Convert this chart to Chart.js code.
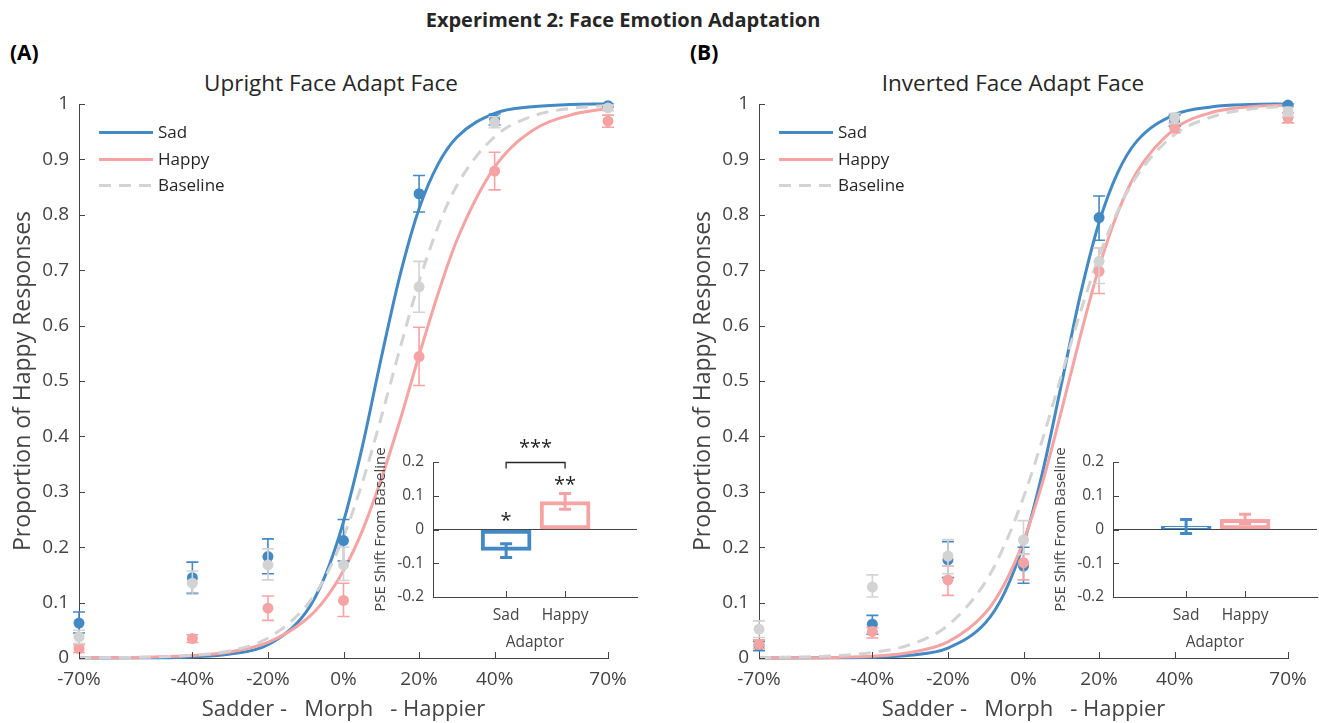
<!DOCTYPE html>
<html>
<head>
<meta charset="utf-8">
<script src="https://cdn.jsdelivr.net/npm/chart.js@4.4.0/dist/chart.umd.min.js"></script>
<style>
    body { margin: 0; background: #fff; font-family: 'Open Sans', sans-serif; }
    #page { position: relative; width: 1319px; height: 723px; overflow: hidden; }
    canvas { position: absolute; }
    .txt { position: absolute; white-space: pre; color: #262626; }
    .leg { position: absolute; font-size: 17px; line-height: 20px; color: #262626; }
    .leg svg { position: absolute; left: -59px; top: 0; }
</style>
</head>
<body>
<div id="page">
    <div class="txt" style="left:0;width:1246px;text-align:center;top:8px;line-height:24px;font-size:20px;font-weight:bold;">Experiment 2: Face Emotion Adaptation</div>
    <div class="txt" style="left:10px;top:40px;line-height:24px;font-size:21px;font-weight:bold;color:#000;">(A)</div>
    <div class="txt" style="left:690px;top:40px;line-height:24px;font-size:21px;font-weight:bold;color:#000;">(B)</div>
    <div class="txt" style="left:131px;width:400px;text-align:center;top:69px;line-height:28px;font-size:22.5px;">Upright Face Adapt Face</div>
    <div class="txt" style="left:813px;width:400px;text-align:center;top:69px;line-height:28px;font-size:22.5px;">Inverted Face Adapt Face</div>

    <canvas id="mainA" width="639" height="723" style="left:0;top:0;"></canvas>
    <canvas id="mainB" width="639" height="723" style="left:680px;top:0;"></canvas>
    <canvas id="insetA" width="279" height="230" style="left:360px;top:430px;"></canvas>
    <canvas id="insetB" width="279" height="230" style="left:1040px;top:430px;"></canvas>

    <div id="legendA"></div>
    <div id="legendB"></div>
</div>

<script>
// ---- data ----
const morphLevels = [-70, -40, -20, 0, 20, 40, 70];
const xTickValues = [-70, -40, -20, 0, 20, 40, 70];
const conditions = ['Sad', 'Happy', 'Baseline'];

// upright face, observed proportions and error bar ends
const uprightSad = [0.063, 0.145, 0.183, 0.212, 0.838, 0.972, 0.997];
const uprightSadLo = [0.045, 0.117, 0.152, 0.175, 0.805, 0.962, 0.994];
const uprightSadHi = [0.083, 0.173, 0.215, 0.250, 0.871, 0.982, 1.000];
const uprightHappy = [0.017, 0.035, 0.090, 0.104, 0.544, 0.879, 0.969];
const uprightHappyLo = [0.010, 0.028, 0.068, 0.075, 0.492, 0.845, 0.958];
const uprightHappyHi = [0.024, 0.042, 0.112, 0.135, 0.597, 0.913, 0.980];
const uprightBase = [0.038, 0.135, 0.168, 0.168, 0.670, 0.967, 0.993];
const uprightBaseLo = [0.026, 0.115, 0.141, 0.140, 0.624, 0.957, 0.988];
const uprightBaseHi = [0.050, 0.157, 0.197, 0.200, 0.716, 0.977, 0.998];

// inverted face
const invertedSad = [0.022, 0.061, 0.177, 0.166, 0.795, 0.970, 0.998];
const invertedSadLo = [0.013, 0.043, 0.145, 0.135, 0.754, 0.960, 0.995];
const invertedSadHi = [0.030, 0.077, 0.210, 0.200, 0.834, 0.980, 1.000];
const invertedHappy = [0.025, 0.048, 0.141, 0.172, 0.698, 0.957, 0.975];
const invertedHappyLo = [0.017, 0.036, 0.113, 0.141, 0.658, 0.948, 0.966];
const invertedHappyHi = [0.033, 0.055, 0.166, 0.188, 0.740, 0.965, 0.984];
const invertedBase = [0.052, 0.128, 0.184, 0.213, 0.716, 0.975, 0.986];
const invertedBaseLo = [0.037, 0.110, 0.152, 0.187, 0.676, 0.965, 0.978];
const invertedBaseHi = [0.067, 0.150, 0.214, 0.248, 0.740, 0.983, 0.994];

// fitted curves, sampled off the figure
const curveX = [-70, -50, -40, -30, -20, -10, -5, 0, 5, 10, 15, 20, 25, 30, 40, 50, 60, 70];
const uprightSadFit = [0.000, 0.0005, 0.002, 0.007, 0.024, 0.082, 0.146, 0.246, 0.382, 0.542, 0.692, 0.811, 0.891, 0.940, 0.983, 0.995, 0.999, 1.000];
const uprightHappyFit = [0.0003, 0.002, 0.0045, 0.011, 0.028, 0.069, 0.105, 0.158, 0.230, 0.323, 0.430, 0.546, 0.657, 0.754, 0.886, 0.952, 0.980, 0.992];
const uprightBaseFit = [0.0002, 0.002, 0.005, 0.013, 0.036, 0.093, 0.144, 0.219, 0.317, 0.435, 0.560, 0.679, 0.778, 0.853, 0.941, 0.978, 0.992, 0.997];
const invertedSadFit = [0.000, 0.0003, 0.0013, 0.005, 0.018, 0.064, 0.118, 0.206, 0.334, 0.493, 0.654, 0.786, 0.877, 0.933, 0.981, 0.995, 0.999, 1.000];
const invertedHappyFit = [0.0001, 0.001, 0.003, 0.010, 0.029, 0.082, 0.134, 0.211, 0.316, 0.445, 0.580, 0.705, 0.805, 0.877, 0.955, 0.985, 0.995, 0.998];
const invertedBaseFit = [0.0006, 0.004, 0.010, 0.024, 0.059, 0.138, 0.204, 0.290, 0.394, 0.509, 0.623, 0.725, 0.808, 0.870, 0.945, 0.977, 0.991, 0.996];

// PSE shift insets
const adaptors = ['Sad', 'Happy'];
const adaptorPos = [1, 2];
const uprightShift = [-0.062, 0.083];
const uprightShiftLo = [-0.083, 0.060];
const uprightShiftHi = [-0.042, 0.107];
const uprightStars = ['*', '**'];
const uprightPairStars = '***';
const invertedShift = [0.010, 0.030];
const invertedShiftLo = [-0.012, 0.018];
const invertedShiftHi = [0.030, 0.045];
const invertedStars = ['', ''];
const invertedPairStars = '';

const BLUE = '#4389C4';
const PINK = '#F5A3A3';
const GREY = '#D3D3D3';
const AXIS = '#444444';
const colors = [BLUE, PINK, GREY];

Chart.defaults.font.family = "'Open Sans', sans-serif";
Chart.defaults.color = AXIS;

// small ticks pointing into the plot, like the original
const innerTicks = {
    id: 'innerTicks',
    afterDraw(chart) {
        const { ctx, chartArea, scales } = chart;
        ctx.save();
        ctx.strokeStyle = AXIS;
        ctx.lineWidth = 1;
        scales.y.ticks.forEach(t => {
            const py = Math.round(scales.y.getPixelForValue(t.value)) + 0.5;
            ctx.beginPath();
            ctx.moveTo(chartArea.left, py);
            ctx.lineTo(chartArea.left + 6, py);
            ctx.stroke();
        });
        scales.x.ticks.forEach(t => {
            const px = Math.round(scales.x.getPixelForValue(t.value)) + 0.5;
            ctx.beginPath();
            ctx.moveTo(px, chartArea.bottom);
            ctx.lineTo(px, chartArea.bottom - 6);
            ctx.stroke();
        });
        ctx.restore();
    }
};

// error bars for the observed points, drawn just under each dataset's dots
const pointErrors = {
    id: 'pointErrors',
    beforeDatasetDraw(chart, args) {
        const ds = chart.data.datasets[args.index];
        if (!ds.errLo) return;
        const { ctx, scales } = chart;
        ctx.save();
        ctx.strokeStyle = ds.backgroundColor;
        ctx.lineWidth = 1.6;
        ds.data.forEach((p, j) => {
            const px = scales.x.getPixelForValue(p.x);
            const top = scales.y.getPixelForValue(ds.errHi[j]);
            const bot = scales.y.getPixelForValue(ds.errLo[j]);
            ctx.beginPath();
            ctx.moveTo(px, top); ctx.lineTo(px, bot);
            ctx.moveTo(px - 6, top); ctx.lineTo(px + 6, top);
            ctx.moveTo(px - 6, bot); ctx.lineTo(px + 6, bot);
            ctx.stroke();
        });
        ctx.restore();
    }
};

function makeMain(id, obs, lo, hi, fits) {
    const datasets = [];
    // dots: baseline on top, then happy, then sad
    for (let i = 2; i >= 0; i--) {
        datasets.push({
            type: 'scatter',
            label: conditions[i] + ' data',
            data: morphLevels.map((m, j) => ({ x: m, y: obs[i][j] })),
            errLo: lo[i],
            errHi: hi[i],
            backgroundColor: colors[i],
            borderColor: colors[i],
            pointRadius: 5.5,
            pointBorderWidth: 0,
            clip: false,
            order: 2 - i
        });
    }
    for (let i = 2; i >= 0; i--) {
        datasets.push({
            type: 'line',
            label: conditions[i],
            data: curveX.map((m, j) => ({ x: m, y: fits[i][j] })),
            borderColor: colors[i],
            borderWidth: 3,
            borderDash: i === 2 ? [12, 8] : [],
            pointRadius: 0,
            cubicInterpolationMode: 'monotone',
            fill: false,
            clip: false,
            order: 5 - i
        });
    }
    return new Chart(document.getElementById(id), {
        data: { datasets },
        options: {
            responsive: false,
            animation: false,
            events: [],
            layout: { padding: { left: 10, top: 104, right: 31, bottom: 0 } },
            plugins: { legend: { display: false }, tooltip: { enabled: false } },
            scales: {
                x: {
                    type: 'linear',
                    min: -70,
                    max: 70,
                    afterBuildTicks: s => { s.ticks = xTickValues.map(v => ({ value: v })); },
                    afterFit: s => { s.height = 65; },
                    grid: { display: false, drawTicks: false },
                    border: { display: true, color: AXIS, width: 1 },
                    ticks: { autoSkip: false, maxRotation: 0, padding: 10, font: { size: 19 }, callback: v => v + '%' },
                    title: { display: true, text: 'Sadder -   Morph   - Happier', font: { size: 22 }, padding: 0, color: AXIS }
                },
                y: {
                    type: 'linear',
                    min: 0,
                    max: 1,
                    afterFit: s => { s.width = 69; },
                    grid: { display: false, drawTicks: false },
                    border: { display: true, color: AXIS, width: 1 },
                    ticks: { stepSize: 0.1, padding: 10, font: { size: 19 }, callback: v => (Math.abs(v) < 1e-9 ? '0' : String(+v.toFixed(1))) },
                    title: { display: true, text: 'Proportion of Happy Responses', font: { size: 23 }, padding: 0, color: AXIS }
                }
            }
        },
        plugins: [innerTicks, pointErrors]
    });
}

// error bars, significance stars and bracket for the inset bars
const insetMarks = {
    id: 'insetMarks',
    afterDatasetsDraw(chart) {
        const { ctx, scales } = chart;
        const ds = chart.data.datasets[0];
        ctx.save();
        ds.data.forEach((p, j) => {
            const px = scales.x.getPixelForValue(p.x);
            const top = scales.y.getPixelForValue(ds.errHi[j]);
            const bot = scales.y.getPixelForValue(ds.errLo[j]);
            ctx.strokeStyle = ds.borderColor[j];
            ctx.lineWidth = 3;
            ctx.beginPath();
            ctx.moveTo(px, top); ctx.lineTo(px, bot);
            ctx.moveTo(px - 6, top); ctx.lineTo(px + 6, top);
            ctx.moveTo(px - 6, bot); ctx.lineTo(px + 6, bot);
            ctx.stroke();
            if (ds.stars[j]) {
                ctx.fillStyle = '#262626';
                ctx.font = "20px 'Open Sans'";
                ctx.textAlign = 'center';
                ctx.textBaseline = 'middle';
                const sy = scales.y.getPixelForValue(Math.max(0, ds.errHi[j])) - 8;
                ctx.fillText(ds.stars[j], px, sy);
            }
        });
        if (ds.pairStars) {
            const x1 = scales.x.getPixelForValue(ds.data[0].x);
            const x2 = scales.x.getPixelForValue(ds.data[1].x);
            const by = Math.round(scales.y.getPixelForValue(0.2)) + 0.5;
            ctx.strokeStyle = '#262626';
            ctx.lineWidth = 1.3;
            ctx.beginPath();
            ctx.moveTo(x1, by + 6); ctx.lineTo(x1, by); ctx.lineTo(x2, by); ctx.lineTo(x2, by + 6);
            ctx.stroke();
            ctx.fillStyle = '#262626';
            ctx.font = "20px 'Open Sans'";
            ctx.textAlign = 'center';
            ctx.textBaseline = 'middle';
            ctx.fillText(ds.pairStars, (x1 + x2) / 2, by - 14);
        }
        ctx.restore();
    }
};

function makeInset(id, vals, lo, hi, stars, pairStars) {
    return new Chart(document.getElementById(id), {
        type: 'bar',
        data: {
            datasets: [{
                data: adaptorPos.map((x, j) => ({ x: x, y: vals[j] })),
                errLo: lo,
                errHi: hi,
                stars: stars,
                pairStars: pairStars,
                backgroundColor: '#ffffff',
                borderColor: [BLUE, PINK],
                borderWidth: 4,
                borderSkipped: false,
                barThickness: 50
            }]
        },
        options: {
            responsive: false,
            animation: false,
            events: [],
            layout: { padding: { left: 12, top: 32, right: 2, bottom: 4 } },
            plugins: { legend: { display: false }, tooltip: { enabled: false } },
            scales: {
                x: {
                    type: 'linear',
                    offset: false,
                    min: -0.24,
                    max: 3.22,
                    afterBuildTicks: s => { s.ticks = adaptorPos.map(v => ({ value: v })); },
                    afterFit: s => { s.height = 59; },
                    grid: { display: false, drawTicks: false },
                    border: { display: true, color: AXIS, width: 1 },
                    ticks: { autoSkip: false, maxRotation: 0, padding: 9, font: { size: 15.5 }, callback: v => adaptors[adaptorPos.indexOf(v)] },
                    title: { display: true, text: 'Adaptor', font: { size: 15.5 }, padding: { top: 0, bottom: 4 }, color: AXIS }
                },
                y: {
                    type: 'linear',
                    min: -0.2,
                    max: 0.2,
                    afterFit: s => { s.width = 61; },
                    grid: {
                        drawTicks: false,
                        color: c => (c.tick && Math.abs(c.tick.value) < 1e-9 ? AXIS : 'rgba(0,0,0,0)')
                    },
                    border: { display: true, color: AXIS, width: 1 },
                    ticks: { stepSize: 0.1, padding: 9, font: { size: 15.5 }, callback: v => (Math.abs(v) < 1e-9 ? '0' : String(+v.toFixed(1))) },
                    title: { display: true, text: 'PSE Shift From Baseline', font: { size: 15 }, padding: 0, color: AXIS }
                }
            }
        },
        plugins: [innerTicks, insetMarks]
    });
}

function makeLegend(id, left) {
    const box = document.getElementById(id);
    const tops = [122, 149, 175];
    conditions.forEach((name, i) => {
        const d = document.createElement('div');
        d.className = 'leg';
        d.style.left = left + 'px';
        d.style.top = tops[i] + 'px';
        d.textContent = name;
        const dash = i === 2 ? ' stroke-dasharray="12 8"' : '';
        d.insertAdjacentHTML('afterbegin',
            '<svg width="54" height="20"><line x1="0" y1="10.5" x2="54" y2="10.5" stroke="' + colors[i] + '" stroke-width="3"' + dash + '/></svg>');
        box.appendChild(d);
    });
}

makeMain('mainA',
    [uprightSad, uprightHappy, uprightBase],
    [uprightSadLo, uprightHappyLo, uprightBaseLo],
    [uprightSadHi, uprightHappyHi, uprightBaseHi],
    [uprightSadFit, uprightHappyFit, uprightBaseFit]);
makeMain('mainB',
    [invertedSad, invertedHappy, invertedBase],
    [invertedSadLo, invertedHappyLo, invertedBaseLo],
    [invertedSadHi, invertedHappyHi, invertedBaseHi],
    [invertedSadFit, invertedHappyFit, invertedBaseFit]);
makeInset('insetA', uprightShift, uprightShiftLo, uprightShiftHi, uprightStars, uprightPairStars);
makeInset('insetB', invertedShift, invertedShiftLo, invertedShiftHi, invertedStars, invertedPairStars);
makeLegend('legendA', 158);
makeLegend('legendB', 838);
</script>
</body>
</html>
